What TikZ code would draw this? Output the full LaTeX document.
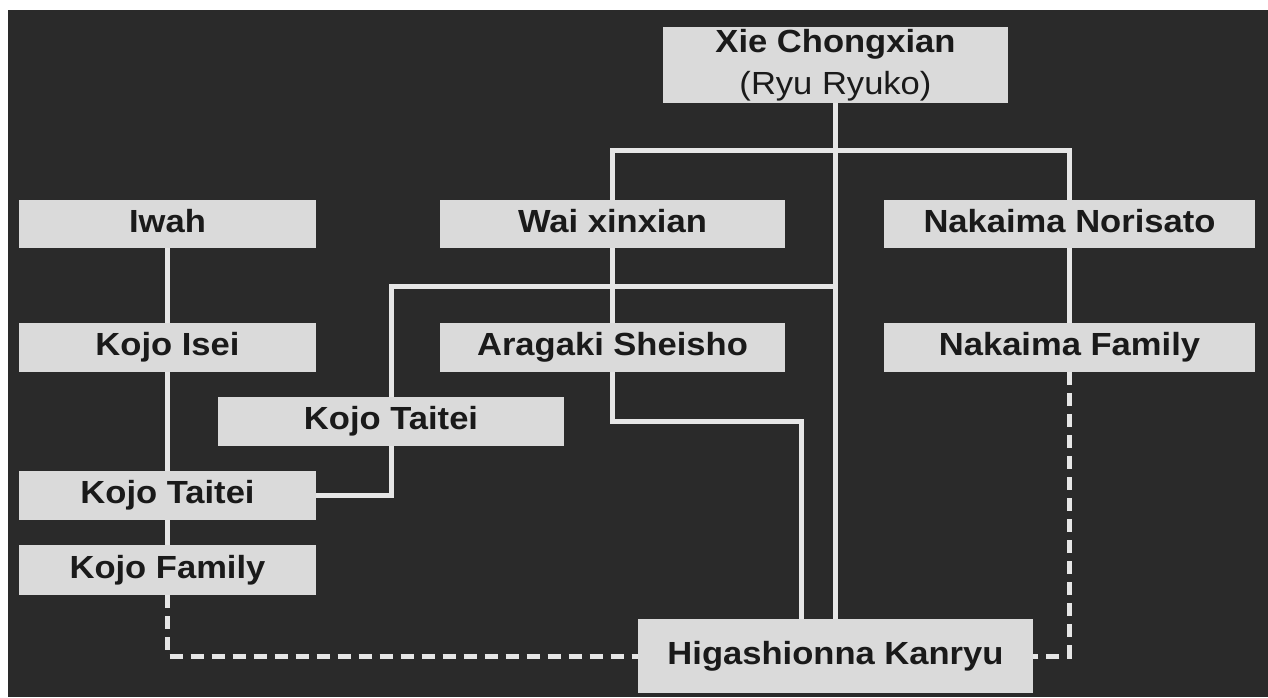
\documentclass[tikz,border=0pt]{standalone}
\usepackage{fontspec}
\setmainfont{Liberation Sans}[FakeStretch=1.08]
\usetikzlibrary{calc}
\pgfdeclarelayer{bgl}
\pgfdeclarelayer{lines}
\pgfsetlayers{bgl,lines,main}
\definecolor{bgdark}{HTML}{2A2A2A}
\definecolor{boxgrey}{HTML}{DADADA}
\definecolor{linegrey}{HTML}{E6E6E6}
\definecolor{txt}{HTML}{1A1A1A}
\tikzset{
  boxbase/.style={fill=boxgrey, text=txt, inner sep=0pt, font=\fontsize{32}{42}\selectfont\bfseries},
  lbl/.style={boxbase, text height=24pt, text depth=8pt},
  link/.style={draw=linegrey, line width=5pt},
  dlink/.style={link, dash pattern=on 13pt off 8pt},
}
\begin{document}
\begin{tikzpicture}[x=1pt,y=-1pt]
\useasboundingbox (0,0) rectangle (1268,697);
\begin{pgfonlayer}{bgl}
\fill[white] (0,0) rectangle (1268,697);
\fill[bgdark] (8,10) rectangle (1268,697);
\end{pgfonlayer}

\node[boxbase, align=center, minimum width=345pt, minimum height=76pt] (xie) at (835.5,65) {Xie Chongxian\\{\mdseries (Ryu Ryuko)}};
\node[lbl, minimum width=297pt, minimum height=48pt] (iwah) at (167.5,224) {Iwah};
\node[lbl, minimum width=345pt, minimum height=48pt] (wai) at (612.5,224) {Wai xinxian};
\node[lbl, minimum width=371pt, minimum height=48pt] (nakN) at (1069.5,224) {Nakaima Norisato};
\node[lbl, minimum width=297pt, minimum height=49pt] (isei) at (167.5,347.5) {Kojo Isei};
\node[lbl, minimum width=345pt, minimum height=49pt] (aragaki) at (612.5,347.5) {Aragaki Sheisho};
\node[lbl, minimum width=371pt, minimum height=49pt] (nakF) at (1069.5,347.5) {Nakaima Family};
\node[lbl, minimum width=346pt, minimum height=49pt] (taiteiB) at (391,421.5) {Kojo Taitei};
\node[lbl, minimum width=297pt, minimum height=49pt] (taiteiA) at (167.5,495.5) {Kojo Taitei};
\node[lbl, minimum width=297pt, minimum height=50pt] (family) at (167.5,570) {Kojo Family};
\node[lbl, minimum width=395pt, minimum height=74pt] (higa) at (835.5,656) {Higashionna Kanryu};

\begin{pgfonlayer}{lines}
\coordinate (j1) at (835.5,150);
\coordinate (j3) at (835.5,286);
\coordinate (j2) at (801,421);
\draw[link] (xie.south) -- (higa.north);
\draw[link] (wai.north) |- (j1) -| (nakN.north);
\draw[link] (wai.south) -- (aragaki.north);
\draw[link] (nakN.south) -- (nakF.north);
\draw[link] (iwah.south) -- (isei.north);
\draw[link] (isei.south) -- (taiteiA.north);
\draw[link] (taiteiA.south) -- (family.north);
\draw[link] (aragaki.south) |- (j2) -- (j2 |- higa.north);
\draw[link] (j3) -| (taiteiB.north);
\draw[link] (taiteiB.south) |- (taiteiA.east);
\draw[dlink] (family.south) |- (higa.west);
\draw[dlink] (nakF.south) |- (higa.east);
\end{pgfonlayer}
\end{tikzpicture}
\end{document}
